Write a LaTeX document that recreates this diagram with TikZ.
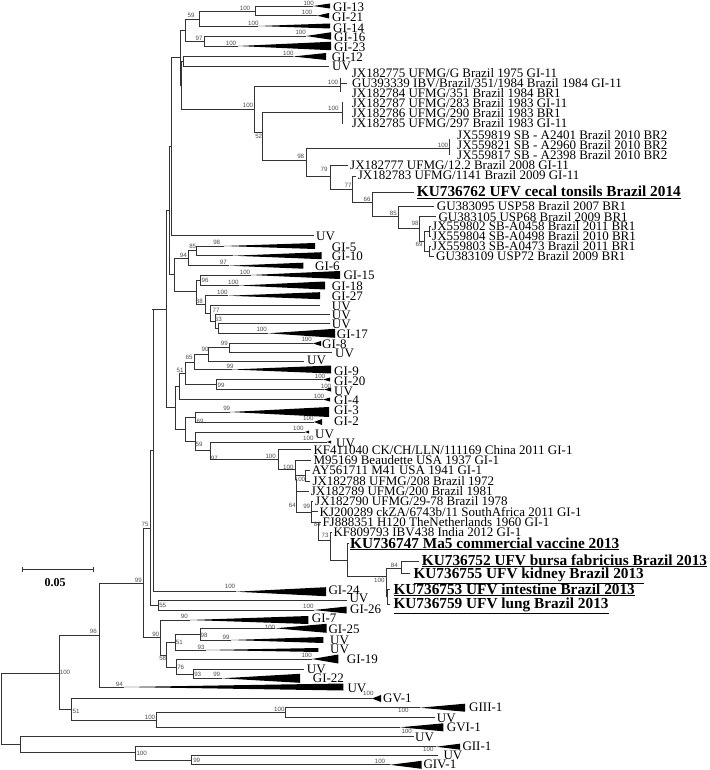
\documentclass[tikz,border=0pt]{standalone}
\usepackage{fontspec}
\setmainfont{Liberation Serif}
\newfontfamily\bsfont{Liberation Sans}
\newcounter{lc}
\newcommand\hb[3]{\draw[br] (#1,#3) -- (#2,#3);}
\newcommand\vb[3]{\draw[br] (#1,#2) -- (#1,#3);}
\newcommand\wdg[4]{\fill[black] (#1,#3) -- (#2,{#3-#4/2}) -- (#2,{#3+#4/2}) -- cycle;}
\newcommand\tl[3]{\stepcounter{lc}\node[lab] (t\arabic{lc}) at (#1,{#2+4.3}) {#3};}
\newcommand\bl[3]{\stepcounter{lc}\node[blab] (t\arabic{lc}) at (#1,{#2+5}) {\underline{#3}};}
\newcommand\bs[3]{\stepcounter{lc}\node[bsl] (t\arabic{lc}) at (#1,#2) {#3};}
\begin{document}
\begin{tikzpicture}[x=1pt,y=-1pt,
  br/.style={draw=black!80, line width=0.75pt, line cap=rect},
  lab/.style={anchor=base west, inner sep=0pt, font=\fontsize{13}{13}\selectfont},
  blab/.style={anchor=base west, inner sep=0pt, font=\fontsize{15.3}{15}\selectfont\bfseries},
  bsl/.style={inner sep=0pt, font=\bsfont\fontsize{6.2}{6}\selectfont, text=black!70}]
\useasboundingbox (0,0) rectangle (709,770);
% ---------- top ----------
\hb{199}{255.7}{11.5} \vb{255.7}{6}{15.7} \bs{245}{8}{100}
\hb{255.7}{313}{6} \wdg{313}{330}{6}{5} \tl{333}{7}{GI-13} \bs{308.7}{3}{100}
\hb{255.7}{317}{15.7} \wdg{317}{329}{15.7}{5.5} \tl{332}{17}{GI-21} \bs{307}{12.5}{100}
\vb{199}{11.5}{26} \hb{185.7}{199}{19} \bs{191}{15}{59}
\hb{199}{258}{26} \wdg{258}{330}{26}{5} \tl{333}{28}{GI-14} \bs{253.3}{23.5}{100}
\vb{204}{36}{46} \hb{185.7}{204}{41} \bs{199}{38}{97}
\hb{204}{306}{36} \wdg{306}{331}{36}{7.5} \tl{334}{37}{GI-16} \bs{300.7}{32.7}{100}
\hb{204}{238}{46} \wdg{238}{331}{46}{8.5} \tl{334}{47}{GI-23} \bs{231}{43.3}{100}
\vb{185.7}{19}{41} \hb{180}{185.7}{30}
\vb{183.7}{56.5}{66} \hb{181.7}{183.7}{61}
\hb{183.7}{293}{56.5} \wdg{293}{326}{56.5}{7} \tl{331.7}{57}{GI-12} \bs{288.3}{53.3}{100}
\hb{183.7}{329}{66} \tl{332}{66}{UV}
\vb{180}{30}{85} \hb{171.7}{180}{57.5}
\vb{181.7}{61}{109} \hb{180}{181.7}{85}
% UFMG clade
\hb{181.7}{254}{109} \vb{254}{86.7}{132} \bs{248}{105}{100}
\hb{254}{340.7}{86.7} \vb{340.7}{78}{92} \hb{340.7}{347}{83.3} \bs{333}{82.5}{100}
\tl{351.7}{73.3}{JX182775 UFMG/G Brazil 1975 GI-11}
\tl{352}{83.3}{GU393339 IBV/Brazil/351/1984 Brazil 1984 GI-11}
\tl{351.7}{93.3}{JX182784 UFMG/351 Brazil 1984 BR1}
\hb{262.7}{342.7}{112} \vb{342.7}{102}{124} \bs{333.3}{108.3}{100}
\tl{351.7}{103.3}{JX182787 UFMG/283 Brazil 1983 GI-11}
\tl{351.7}{113.3}{JX182786 UFMG/290 Brazil 1983 BR1}
\tl{351.7}{123.3}{JX182785 UFMG/297 Brazil 1983 GI-11}
\hb{254}{262.7}{132} \vb{262.7}{112}{160} \bs{258.7}{136.7}{52}
\hb{262.7}{306}{160} \vb{306}{148.3}{176} \bs{300.7}{156.7}{98}
\hb{306}{449.3}{148.3} \vb{449.3}{139}{155} \bs{443}{145}{100}
\tl{457}{135}{JX559819 SB - A2401 Brazil 2010 BR2}
\tl{457}{145}{JX559821 SB - A2960 Brazil 2010 BR2}
\tl{457}{155}{JX559817 SB - A2398 Brazil 2010 BR2}
\hb{306}{330}{176} \vb{330}{165}{189.3} \bs{324}{169}{79}
\hb{330}{348}{165} \tl{350}{165}{JX182777 UFMG/12.2 Brazil 2008 GI-11}
\hb{330}{352.7}{189.3} \vb{352.7}{176}{202.7} \bs{348}{185.7}{77}
\hb{352.7}{356}{176} \tl{357.7}{175.5}{JX182783 UFMG/1141 Brazil 2009 GI-11}
\hb{352.7}{372.7}{202.7} \vb{372.7}{192.7}{216.7} \bs{367}{199}{66}
\hb{372.7}{414}{192.7} \bl{416.7}{191.5}{KU736762 UFV cecal tonsils Brazil 2014}
\hb{372.7}{398.3}{216.7} \vb{398.3}{206}{228} \bs{393.3}{213.3}{85}
\hb{398.3}{434}{206} \tl{436.7}{206}{GU383095 USP58 Brazil 2007 BR1}
\hb{398.3}{419.3}{228} \vb{419.3}{216.7}{241} \bs{415}{223.3}{98}
\hb{419.3}{436}{216.7} \tl{438.3}{216.7}{GU383105 USP68 Brazil 2009 BR1}
\hb{419.3}{424}{241} \vb{424}{231}{251} \bs{419}{244}{69}
\hb{424}{429}{231} \vb{429}{226.5}{236.3} \hb{429}{431}{226.5} \hb{429}{431}{236.3}
\hb{424}{429}{251} \vb{429}{246}{256} \hb{429}{431}{246} \hb{429}{434}{256}
\tl{432}{226.5}{JX559802 SB-A0458 Brazil 2011 BR1}
\tl{432}{236.3}{JX559804 SB-A0498 Brazil 2010 BR1}
\tl{432}{246}{JX559803 SB-A0473 Brazil 2011 BR1}
\tl{436}{256}{GU383109 USP72 Brazil 2009 BR1}
% ---------- middle ----------
\vb{171.7}{57.5}{235.7} \hb{169.3}{171.7}{146.6}
\hb{171.7}{313.3}{235.7} \tl{316}{236}{UV}
\vb{169.3}{146.6}{274.6} \hb{166}{169.3}{210.6}
\vb{174}{258}{291.7} \hb{169.3}{174}{274.6}
\hb{174}{188.3}{258} \vb{188.3}{250.7}{265.7} \bs{183.3}{255}{94}
\hb{188.3}{196.7}{250.7} \vb{196.7}{246}{255.7} \bs{192.7}{246.7}{85}
\hb{196.7}{224}{246} \wdg{224}{315}{246}{6} \tl{331.7}{247}{GI-5} \bs{216.7}{242.7}{98}
\hb{196.7}{233}{255.7} \wdg{233}{321.7}{255.7}{7} \tl{331.7}{256}{GI-10}
\hb{188.3}{229}{265.7} \wdg{229}{303.3}{265.7}{6} \tl{315}{266}{GI-6} \bs{223.3}{262.3}{97}
\hb{174}{196}{291.7} \vb{196}{280}{304}
\hb{196}{200}{280} \vb{200}{275}{285.5} \bs{205}{280.7}{96}
\hb{200}{251}{275} \wdg{251}{340}{275}{8} \tl{343.3}{275.5}{GI-15} \bs{245}{272.3}{100}
\hb{200}{239}{285.5} \wdg{239}{325}{285.5}{8} \tl{331.7}{286}{GI-18} \bs{233.3}{282.3}{100}
\hb{196}{205}{304} \vb{205}{295.7}{313} \bs{199.3}{301.7}{88}
\hb{205}{228}{295.7} \wdg{228}{320}{295.7}{7} \tl{331.7}{296}{GI-27} \bs{222.3}{292.3}{100}
\hb{205}{210}{313} \vb{210}{305.3}{321}
\hb{210}{320}{305.3} \tl{331.7}{305.7}{UV} \bs{216}{310}{77}
\hb{210}{215}{321} \vb{215}{314.3}{328.3}
\hb{215}{330}{314.3} \tl{331.7}{315.5}{UV} \bs{218.3}{319.3}{63}
\hb{215}{218.3}{328.3} \vb{218.3}{323.3}{333.3}
\hb{218.3}{330}{323.3} \tl{331.7}{324.5}{UV}
\hb{218.3}{268}{333.3} \wdg{268}{335}{333.3}{9} \tl{336.7}{334}{GI-17} \bs{261.7}{329}{100}
\vb{166}{210.6}{407.8} \hb{152.7}{166}{309.2}
\hb{166}{175.5}{407.8} \vb{175.5}{386.4}{429.2}
\hb{175.5}{179}{386.4} \vb{179}{373.3}{399.5}
\hb{179}{185}{373.3} \vb{185}{362}{384.7} \bs{180}{370}{51}
\hb{185}{194.3}{362} \vb{194.3}{354.4}{369.5} \bs{189}{357.7}{65}
\hb{194.3}{208.3}{354.4} \vb{208.3}{347.7}{361} \bs{205}{349}{90}
\hb{208.3}{229}{347.7} \vb{229}{343.5}{352} \bs{224.3}{343.3}{99}
\hb{229}{313}{343.5} \wdg{313}{321}{343.5}{5} \tl{322}{344}{GI-8} \bs{306.7}{339.5}{100}
\hb{229}{331.7}{352} \tl{335}{353}{UV}
\hb{208.3}{303.3}{361} \tl{307}{360.5}{UV}
\hb{194.3}{232}{369.5} \wdg{232}{331}{369.5}{8} \tl{334}{371}{GI-9} \bs{230}{366}{99}
\hb{185}{216.7}{384.7} \vb{216.7}{379.5}{389.5} \bs{221}{385.7}{99}
\hb{216.7}{323}{379.5} \wdg{323}{330}{379.5}{4} \tl{334}{381.5}{GI-20} \bs{320}{376.5}{100}
\hb{216.7}{324}{389.5} \wdg{324}{331}{389.5}{4} \tl{334}{391}{UV} \bs{326}{386.5}{100}
\hb{179}{323}{399.5} \wdg{323}{330}{399.5}{4} \tl{334}{400.5}{GI-4} \bs{319}{396.5}{100}
\hb{175.5}{185}{429.2} \vb{185}{417}{441.4}
\hb{185}{195.7}{417} \vb{195.7}{412}{422} \bs{200}{421}{69}
\hb{195.7}{230}{412} \wdg{230}{329}{412}{10} \tl{334}{410.5}{GI-3} \bs{226.7}{408}{99}
\hb{195.7}{314}{422} \wdg{314}{322}{422}{6} \tl{334}{421}{GI-2} \bs{308.3}{418.5}{100}
\hb{185}{195.7}{441.4} \vb{195.7}{432}{450.8}
\hb{195.7}{305}{432} \wdg{305}{309}{432}{3} \tl{315}{434}{UV} \bs{298.3}{428.5}{100}
\hb{195.7}{210}{450.8} \vb{210}{442}{459.6} \bs{199}{444.5}{59} \bs{214.3}{458}{97}
\hb{210}{327}{442} \wdg{327}{331}{442}{3} \tl{336}{443.5}{UV} \bs{308.3}{438.5}{100}
% GI-1 clade
\hb{210}{278.3}{459.6} \vb{278.3}{449.5}{469.7} \bs{270.7}{456}{100}
\hb{278.3}{311}{449.5} \tl{313.3}{450}{KF411040 CK/CH/LLN/111169 China 2011 GI-1}
\hb{278.3}{295}{469.7} \vb{295}{460}{479.4} \bs{288.3}{467}{100}
\hb{295}{311}{460} \tl{313.3}{460}{M95169 Beaudette USA 1937 GI-1}
\hb{295}{305}{475.7} \vb{305}{470.5}{481} \bs{300}{479.3}{100}
\hb{305}{310}{470.5} \tl{311.7}{470.5}{AY561711 M41 USA 1941 GI-1}
\hb{305}{310}{481} \tl{312.3}{481}{JX182788 UFMG/208 Brazil 1972}
\hb{295}{296.7}{479.4} \vb{296.7}{479.4}{512} \bs{292.3}{505}{64}
\hb{296.7}{309}{491.5} \tl{310.7}{491.5}{JX182789 UFMG/200 Brazil 1981}
\hb{296.7}{311.7}{512} \vb{311.7}{501.5}{522} \bs{306.7}{506.7}{99}
\hb{311.7}{313}{501.5} \tl{315}{501.5}{JX182790 UFMG/29-78 Brazil 1978}
\hb{311.7}{318}{511.7} \tl{319.5}{511.7}{KJ200289 ckZA/6743b/11 SouthAfrica 2011 GI-1}
\hb{311.7}{318.3}{522} \vb{318.3}{522}{540} \bs{317.3}{524}{84}
\hb{318.3}{321}{522} \tl{322.3}{522}{FJ888351 H120 TheNetherlands 1960 GI-1}
\hb{318.3}{330}{540} \vb{330}{532.5}{560} \bs{325}{535}{73}
\hb{330}{332}{532.5} \tl{333.3}{532.5}{KF809793 IBV438 India 2012 GI-1}
\hb{330}{347.5}{560} \vb{347.5}{543.3}{576}
\hb{347.5}{349}{543.3} \bl{350}{543}{KU736747 Ma5 commercial vaccine 2013}
\hb{347.5}{386}{576} \vb{386}{568}{596} \bs{379.3}{580}{100}
\hb{386}{401.7}{568} \vb{401.7}{561.7}{573.3} \bs{394.3}{565.7}{84}
\hb{401.7}{418.3}{561.7} \bl{421.7}{560}{KU736752 UFV bursa fabricius Brazil 2013}
\hb{401.7}{410}{573.3} \bl{413.3}{573.5}{KU736755 UFV kidney Brazil 2013}
\hb{386}{387.3}{596} \vb{387.3}{589}{604} \hb{387.3}{390}{589} \hb{387.3}{390}{604}
\bl{393.3}{589}{KU736753 UFV intestine Brazil 2013}
\bl{393.3}{603.5}{KU736759 UFV lung Brazil 2013}
% ---------- bottom ----------
\vb{153.3}{309.2}{591.7} \hb{150}{153.3}{450.4}
\hb{153.3}{236}{591.7} \wdg{236}{326}{591.7}{9} \tl{328.3}{590}{GI-24} \bs{230}{586.7}{100}
\vb{150}{450.4}{605.3} \hb{143.3}{150}{527.9} \bs{145}{524.5}{75}
\hb{150}{158.3}{605.3} \vb{158.3}{600.7}{610} \bs{162.7}{605.7}{55}
\hb{158.3}{346.7}{600} \tl{349.3}{598}{UV}
\hb{158.3}{314}{610} \wdg{314}{346.7}{610}{7} \tl{350}{609.5}{GI-26} \bs{308.3}{606.7}{100}
\vb{143.3}{527.9}{637.3} \hb{99}{143.3}{583.3} \bs{138.3}{580.7}{99}
\hb{143.3}{160}{637.3} \vb{160}{620}{655} \bs{155.7}{634}{90}
\hb{160}{190}{620} \wdg{190}{308.3}{620}{8} \tl{311.7}{618}{GI-7} \bs{184.3}{616.7}{90}
\hb{160}{166.7}{655} \vb{166.7}{642.5}{667} \bs{162.7}{658.3}{58}
\hb{166.7}{175}{642.5} \vb{175}{634}{650} \bs{179.3}{642.7}{51}
\hb{175}{200}{634} \vb{200}{628.3}{640} \bs{204}{635}{98}
\hb{200}{275}{628.3} \wdg{275}{326.7}{628.3}{9} \tl{328.3}{629}{GI-25} \bs{270}{627.3}{100}
\hb{200}{231}{640} \wdg{231}{323.3}{640}{6} \tl{330}{640}{UV} \bs{226}{637.3}{99}
\hb{175}{206}{650} \wdg{206}{318.3}{650}{4} \tl{330}{649.3}{UV} \bs{201}{647.3}{93}
\hb{166.7}{176.7}{667} \vb{176.7}{659}{674} \bs{180.7}{667.7}{76}
\hb{176.7}{312}{659} \wdg{312}{338.3}{659}{9} \tl{346.7}{659}{GI-19} \bs{306.7}{655}{100}
\hb{176.7}{193.3}{674} \vb{193.3}{669.3}{678.3} \bs{197.7}{674}{93}
\hb{193.3}{303.3}{669.3} \tl{306.7}{669}{UV}
\hb{193.3}{222}{678.3} \wdg{222}{300}{678.3}{9} \tl{312.7}{678.3}{GI-22} \bs{216.7}{674}{99}
\vb{99}{583.3}{687} \hb{59.3}{99}{635} \bs{93.3}{631.7}{96}
\hb{99}{124}{687} \wdg{124}{343.3}{687}{7} \tl{347.3}{688}{UV} \bs{119.3}{684}{94}
\vb{59.3}{635}{709.3} \hb{1.7}{59.3}{673.3} \bs{65}{672.7}{100}
\hb{59.3}{71.7}{709.3} \vb{71.7}{698.5}{720} \bs{76}{711}{51}
\hb{71.7}{372}{698.5} \wdg{372}{381}{698.5}{7} \tl{383}{698.5}{GV-1} \bs{368.3}{693.3}{100}
\hb{71.7}{156.7}{720} \vb{156.7}{712.7}{727.3} \bs{150}{717.3}{100}
\hb{156.7}{285.7}{712.7} \vb{285.7}{707.7}{717.7} \bs{279.3}{709}{100}
\hb{285.7}{420}{707.7} \wdg{420}{465}{707.7}{8} \tl{469}{707}{GIII-1} \bs{403.3}{710.7}{100}
\hb{285.7}{435}{717.7} \tl{436.7}{718}{UV}
\hb{156.7}{400}{727.3} \wdg{400}{443.3}{727.3}{8} \tl{446.7}{727}{GVI-1}
\vb{1.7}{673.3}{744}
\hb{1.7}{20.7}{744} \vb{20.7}{736.7}{752.3}
\hb{20.7}{413.3}{736.7} \tl{415}{737}{UV} \bs{406.7}{731.7}{100}
\hb{20.7}{135}{752.3} \vb{135}{746.7}{760.3} \bs{141.7}{753.3}{100}
\hb{135}{436}{746.7} \wdg{436}{460}{746.7}{6} \tl{462.3}{746}{GII-1}
\hb{135}{191.7}{760.3} \vb{191.7}{755.7}{764.8} \bs{196.7}{760.5}{99}
\hb{191.7}{438}{755.7} \tl{443.3}{755.5}{UV} \bs{428.3}{749.3}{100}
\hb{191.7}{390}{764.8} \wdg{390}{421.7}{764.8}{8} \tl{423.3}{763.8}{GIV-1} \bs{380}{761}{100}
% scale bar
\coordinate (sb1) at (22,569.5); \coordinate (sb2) at (93,569.5);
\draw[br] (sb1) -- (sb2);
\draw[br] (22,567) -- (22,572); \draw[br] (93,567) -- (93,572);
\node[inner sep=0pt, font=\fontsize{12}{12}\selectfont\bfseries] (sbl) at (55,583) {0.05};
\end{tikzpicture}
\end{document}
